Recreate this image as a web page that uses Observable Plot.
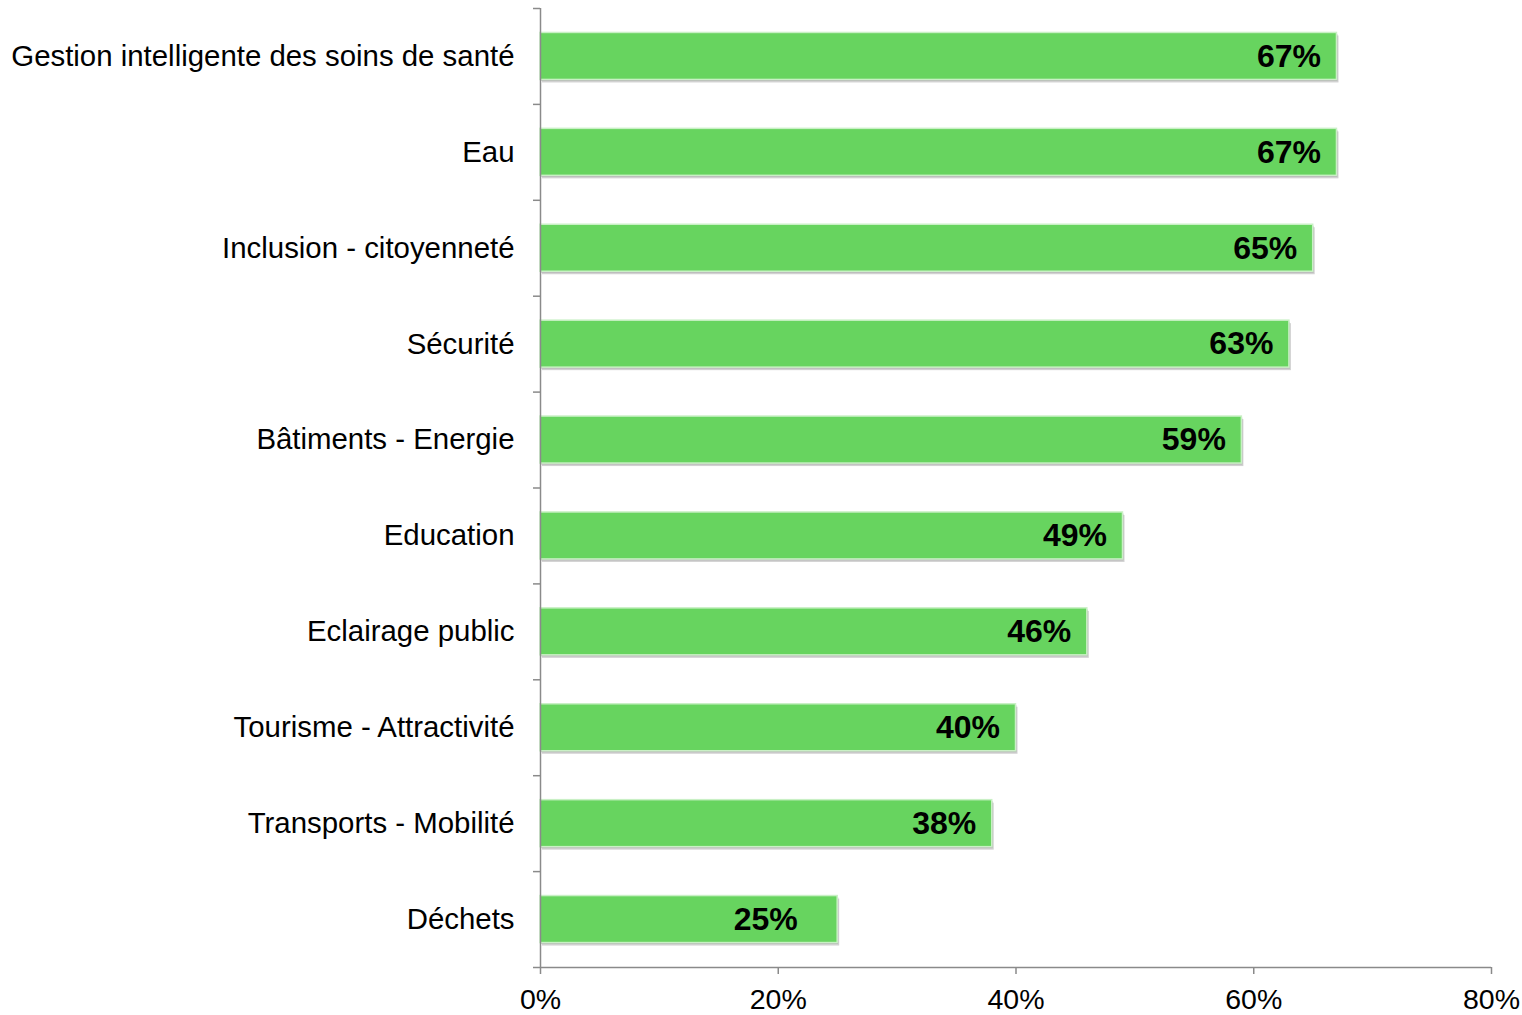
<!DOCTYPE html>
<html>
<head>
<meta charset="utf-8">
<script src="https://cdn.jsdelivr.net/npm/d3@7"></script>
<script src="https://cdn.jsdelivr.net/npm/@observablehq/plot@0.6"></script>
<style>
  html, body { margin: 0; padding: 0; background: #fff; }
  #chart svg { display: block; }
</style>
</head>
<body>
<div id="chart"></div>
<script>
const categories = [
  "Gestion intelligente des soins de santé",
  "Eau",
  "Inclusion - citoyenneté",
  "Sécurité",
  "Bâtiments - Energie",
  "Education",
  "Eclairage public",
  "Tourisme - Attractivité",
  "Transports - Mobilité",
  "Déchets"
];
const values = [67, 67, 65, 63, 59, 49, 46, 40, 38, 25];
const xTicks = [0, 20, 40, 60, 80];

const data = categories.map((c, i) => ({category: c, value: values[i], i}));
const pad = 0.255;
const axisColor = "#8a8a8a";
const shortBar = d => d.value < 30;

const chart = Plot.plot({
  width: 1522,
  height: 1015,
  marginLeft: 540,
  marginRight: 31,
  marginTop: 8,
  marginBottom: 48,
  style: {fontFamily: "'Liberation Sans', Arial, sans-serif", background: "#fff", color: "#000", overflow: "visible"},
  x: {domain: [0, 80]},
  y: {domain: [0, categories.length], range: [8, 967]},
  marks: [
    // shadow
    Plot.rectX(data, {x1: 0, x2: "value", y1: d => d.i + pad, y2: d => d.i + 1 - pad, dx: 2, dy: 3, fill: "#bdbdbd", fillOpacity: 0.7}),
    Plot.rectX(data, {x1: 0, x2: "value", y1: d => d.i + pad, y2: d => d.i + 1 - pad, dx: 1, dy: 1.5, fill: "#9e9e9e", fillOpacity: 0.5}),
    // bars
    Plot.rectX(data, {x1: 0, x2: "value", y1: d => d.i + pad, y2: d => d.i + 1 - pad, fill: "#67D45F", stroke: "#c9f0c5", strokeWidth: 1.5}),
    // value labels
    Plot.text(data, {filter: d => !shortBar(d), x: "value", y: d => d.i + 0.5, text: d => d.value + "%", textAnchor: "end", dx: -16, dy: 0, fontSize: 32, fontWeight: "bold", fill: "#000"}),
    Plot.text(data, {filter: shortBar, x: "value", y: d => d.i + 0.5, text: d => d.value + "%", textAnchor: "end", dx: -40, dy: 0, fontSize: 32, fontWeight: "bold", fill: "#000"}),
    // axis lines
    Plot.ruleX([0], {y1: 0, y2: categories.length, stroke: axisColor, strokeWidth: 1.5}),
    Plot.ruleY([categories.length], {x1: 0, x2: 80, stroke: axisColor, strokeWidth: 1.5}),
    // y boundary ticks
    Plot.axisY({ticks: d3.range(categories.length + 1), tickSize: 7, tickFormat: () => "", stroke: axisColor, strokeWidth: 1.5, label: null}),
    // y category labels
    Plot.axisY({ticks: d3.range(categories.length).map(i => i + 0.5), tickSize: 0, tickPadding: 26, tickFormat: d => categories[Math.floor(d)], fontSize: 29.4, fill: "#000", label: null}),
    // x axis
    Plot.axisX({ticks: xTicks, tickSize: 7, tickPadding: 14, tickFormat: d => d + "%", fontSize: 28.5, stroke: axisColor, strokeWidth: 1.5, fill: "#000", label: null})
  ]
});
document.getElementById("chart").appendChild(chart);
</script>
</body>
</html>
